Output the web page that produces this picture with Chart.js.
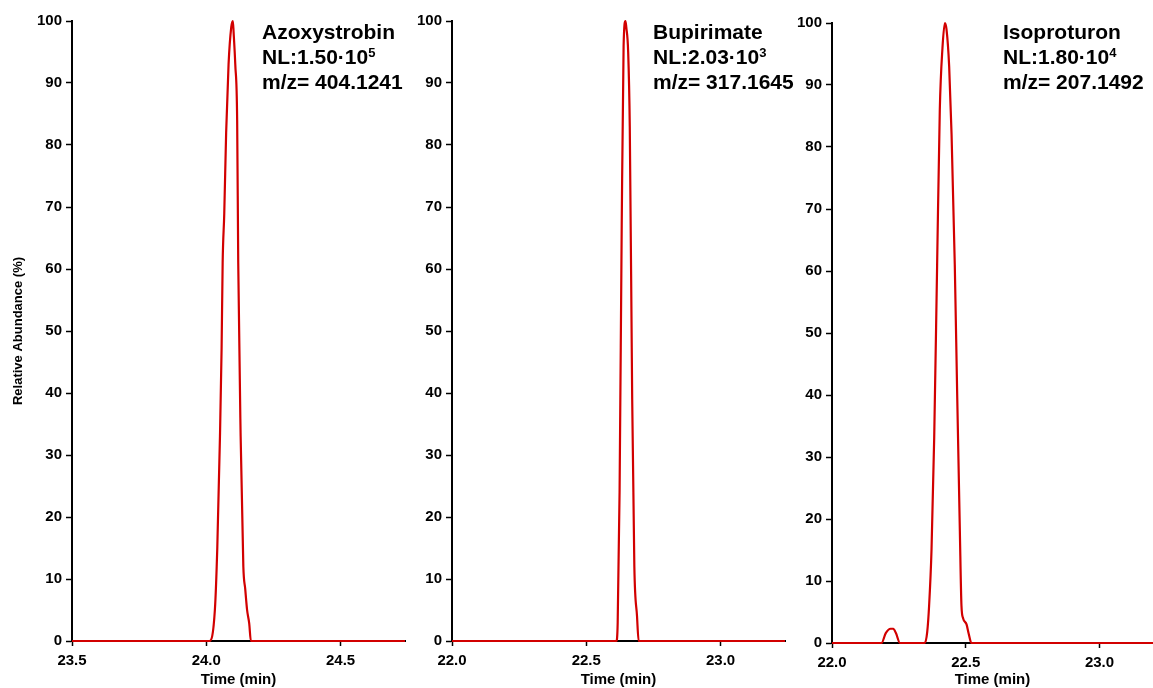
<!DOCTYPE html>
<html>
<head>
<meta charset="utf-8">
<script src="https://cdn.jsdelivr.net/npm/chart.js@4.4.0/dist/chart.umd.min.js"></script>
<style>
  body { margin: 0; background: #fff; width: 1153px; height: 688px; overflow: hidden; position: relative;
         font-family: "Liberation Sans", Arial, sans-serif; }
  canvas { position: absolute; top: 0; }
  .lbl { position: absolute; top: 19px; font-weight: bold; font-size: 21px; line-height: 25px; color: #000; white-space: nowrap; }
  .lbl sup { font-size: 13px; vertical-align: 7px; line-height: 0; }
</style>
</head>
<body>
<canvas id="c1" width="410" height="688" style="left:0px"></canvas>
<canvas id="c2" width="380" height="688" style="left:410px"></canvas>
<canvas id="c3" width="363" height="688" style="left:790px"></canvas>
<div class="lbl" id="l1" style="left:262px"></div>
<div class="lbl" id="l2" style="left:653px"></div>
<div class="lbl" id="l3" style="left:1003px"></div>
<script>
// compounds and their header lines
const compounds = ['Azoxystrobin', 'Bupirimate', 'Isoproturon'];
const nlMantissa = ['1.50', '2.03', '1.80'];
const nlExponent = ['5', '3', '4'];
const mzValues = ['404.1241', '317.1645', '207.1492'];

// tick labels
const azoTicks = [23.5, 24.0, 24.5];
const bupTicks = [22.0, 22.5, 23.0];
const isoTicks = [22.0, 22.5, 23.0];
const yTicks = [0, 10, 20, 30, 40, 50, 60, 70, 80, 90, 100];

// chromatograms (time in min, relative abundance in %)
const azoTime  = [23.5, 24.012, 24.032, 24.041, 24.051, 24.057, 24.061, 24.067, 24.074, 24.083, 24.093, 24.099, 24.102, 24.108, 24.115, 24.119, 24.128, 24.138, 24.145, 24.152, 24.160, 24.166, 24.74];
const azoAbund = [0,    0,      5,      15,     33,     47,     61,     69,     82,     93,     99,     100,    98,     93,     84,     61,     33,     12,     8.4,    5,      2.8,    0,      0];

const bupTime  = [22.0, 22.612, 22.617, 22.624, 22.632, 22.639, 22.646, 22.649, 22.656, 22.662, 22.671, 22.679, 22.689, 22.695, 23.24];
const bupAbund = [0,    0,      3,      24,     67,     96,     100,    99,     95,     83,     39,     12,     4,      0,      0];

const isoTime  = [22.0, 22.185, 22.201, 22.219, 22.229, 22.239, 22.254, 22.347, 22.356, 22.363, 22.372, 22.382, 22.393, 22.403, 22.413, 22.422, 22.428, 22.438, 22.447, 22.459, 22.468, 22.478, 22.484, 22.490, 22.503, 22.511, 22.521, 23.2];
const isoAbund = [0,    0,      1.6,    2.3,    2.3,    1.6,    0,      0,      1.8,    6,      15,     33,     61,     86,     96,     100,    99,     93,     82,     61,     40,     18,     6,      4,      3,      1.5,    0,      0];

const tickFont = { family: 'Liberation Sans, Arial', size: 15, weight: 'bold' };

function makeChart(id, time, abund, xTicks, xMin, xMax, yWidth, topPad, rightPad, showYTitle) {
  const pts = time.map((t, i) => ({ x: t, y: abund[i] }));
  return new Chart(document.getElementById(id), {
    type: 'line',
    data: {
      datasets: [{
        data: pts,
        borderColor: '#d20000',
        borderWidth: 2.2,
        pointRadius: 0,
        cubicInterpolationMode: 'monotone',
        clip: false
      }]
    },
    options: {
      responsive: false,
      animation: false,
      layout: { padding: { top: topPad, right: rightPad, left: 0, bottom: 0 } },
      plugins: { legend: { display: false }, tooltip: { enabled: false } },
      scales: {
        x: {
          type: 'linear',
          min: xMin,
          max: xMax,
          afterBuildTicks: s => { s.ticks = xTicks.map(v => ({ value: v })); },
          afterFit: s => { s.height = 688 - topPad - 620; },
          grid: { drawOnChartArea: false, tickLength: 5, color: '#000', tickWidth: 1.5 },
          border: { color: '#000', width: 2 },
          ticks: { color: '#000', font: tickFont, padding: 6, maxRotation: 0, autoSkip: false,
                   callback: v => v.toFixed(1) },
          title: { display: true, text: 'Time (min)', color: '#000',
                   font: { family: 'Liberation Sans, Arial', size: 15, weight: 'bold', lineHeight: 1.05 },
                   padding: { top: 0, bottom: 0 } }
        },
        y: {
          min: 0,
          max: 100,
          afterBuildTicks: s => { s.ticks = yTicks.map(v => ({ value: v })); },
          afterFit: s => { s.width = yWidth; },
          grid: { drawOnChartArea: false, tickLength: 6, color: '#000', tickWidth: 1.5 },
          border: { color: '#000', width: 2 },
          ticks: { color: '#000', font: tickFont, padding: 4 },
          title: { display: showYTitle, text: 'Relative Abundance (%)', color: '#000',
                   font: { family: 'Liberation Sans, Arial', size: 13, weight: 'bold' }, padding: { top: 11, bottom: 0 } }
        }
      }
    }
  });
}

makeChart('c1', azoTime, azoAbund, azoTicks, 23.5, 24.74, 72, 21, 5, true);
makeChart('c2', bupTime, bupAbund, bupTicks, 22.0, 23.24, 42, 21, 5, false);
makeChart('c3', isoTime, isoAbund, isoTicks, 22.0, 23.2, 42, 23, 0, false);

compounds.forEach((name, i) => {
  document.getElementById('l' + (i + 1)).innerHTML =
    name + '<br>NL:' + nlMantissa[i] + '&middot;10<sup>' + nlExponent[i] + '</sup><br>m/z= ' + mzValues[i];
});
</script>
</body>
</html>
